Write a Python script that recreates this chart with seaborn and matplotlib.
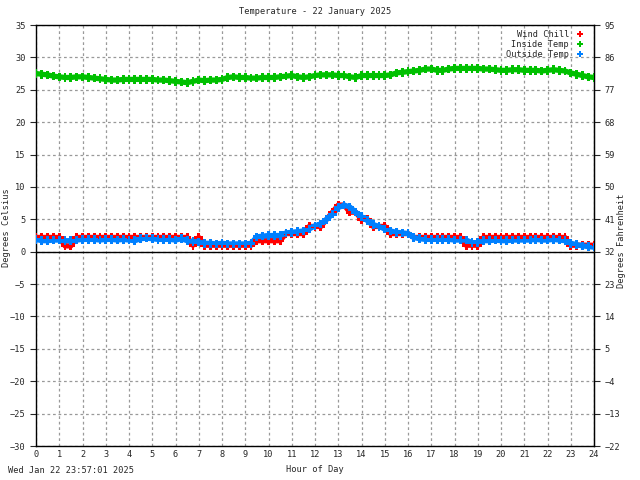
import numpy as np
import pandas as pd
import seaborn as sns
import matplotlib.pyplot as plt

# hours of the day, sampled every quarter hour
hours = np.arange(0, 24.01, 0.25)

inside_temp = [27.5, 27.4, 27.3, 27.1, 27.0, 26.9, 26.9, 27.0, 27.0, 26.9, 26.8, 26.7,
               26.6, 26.5, 26.5, 26.6, 26.6, 26.6, 26.6, 26.6, 26.6, 26.5, 26.5, 26.4,
               26.3, 26.2, 26.1, 26.3, 26.5, 26.4, 26.5, 26.5, 26.6, 26.9, 27.0, 26.9,
               26.9, 26.8, 26.8, 26.9, 26.9, 26.9, 27.0, 27.1, 27.2, 27.0, 26.9, 27.0,
               27.2, 27.3, 27.3, 27.3, 27.2, 27.2, 27.0, 26.9, 27.2, 27.2, 27.2, 27.2,
               27.2, 27.3, 27.6, 27.7, 27.8, 27.9, 28.0, 28.2, 28.2, 28.0, 28.0, 28.2,
               28.3, 28.3, 28.3, 28.3, 28.3, 28.2, 28.2, 28.1, 28.0, 28.0, 28.1, 28.1,
               28.0, 28.0, 28.0, 27.9, 28.0, 28.1, 28.0, 27.9, 27.6, 27.4, 27.2, 27.0,
               26.9]

wind_chill = [2.2, 2.2, 2.2, 2.2, 2.2, 0.9, 0.9, 2.2, 2.2, 2.2, 2.2, 2.2,
              2.2, 2.2, 2.2, 2.2, 2.2, 2.2, 2.2, 2.2, 2.2, 2.2, 2.2, 2.2,
              2.2, 2.2, 2.2, 1.0, 2.2, 1.0, 1.0, 1.0, 1.0, 1.0, 1.0, 1.0,
              1.0, 1.0, 1.7, 1.7, 1.7, 1.7, 1.7, 2.8, 2.8, 2.8, 2.8, 3.9,
              3.9, 3.9, 5.0, 6.1, 7.2, 7.2, 6.1, 6.1, 5.0, 5.0, 3.9, 3.9,
              3.9, 2.8, 2.8, 2.8, 2.8, 2.2, 2.2, 2.2, 2.2, 2.2, 2.2, 2.2,
              2.2, 2.2, 1.0, 1.0, 1.0, 2.2, 2.2, 2.2, 2.2, 2.2, 2.2, 2.2,
              2.2, 2.2, 2.2, 2.2, 2.2, 2.2, 2.2, 2.2, 1.0, 1.0, 1.0, 1.0,
              1.0]

outside_temp = [1.9, 1.7, 1.7, 1.8, 1.8, 1.7, 1.7, 1.8, 1.9, 1.9, 1.9, 1.8,
                1.9, 1.9, 1.8, 1.9, 1.8, 1.7, 2.0, 2.1, 2.0, 1.9, 1.9, 1.9,
                1.8, 2.0, 1.7, 1.6, 1.5, 1.3, 1.3, 1.2, 1.3, 1.2, 1.2, 1.2,
                1.2, 1.3, 2.3, 2.4, 2.5, 2.5, 2.5, 2.9, 3.0, 3.1, 3.2, 3.5,
                4.0, 4.3, 5.0, 5.8, 6.8, 7.2, 6.9, 6.1, 5.4, 4.8, 4.2, 3.9,
                3.5, 3.2, 3.0, 2.9, 2.8, 2.2, 2.0, 1.9, 1.9, 1.9, 1.9, 1.9,
                1.8, 1.8, 1.8, 1.4, 1.4, 1.7, 1.7, 1.8, 1.7, 1.7, 1.8, 1.8,
                1.8, 1.8, 1.9, 1.8, 1.8, 1.9, 1.8, 1.7, 1.3, 1.1, 0.9, 0.8,
                0.7]

series_names = ["Wind Chill", "Inside Temp", "Outside Temp"]
series_colors = ["#ff0000", "#00c000", "#0080ff"]
c_ticks = list(range(-30, 36, 5))
f_ticks = [95, 86, 77, 68, 59, 50, 41, 32, 23, 14, 5, -4, -13, -22]

# long table, drawn in order inside -> wind chill -> outside (blue on top)
df = pd.concat([
    pd.DataFrame({"hour": hours, "temp": inside_temp, "series": "Inside Temp"}),
    pd.DataFrame({"hour": hours, "temp": wind_chill, "series": "Wind Chill"}),
    pd.DataFrame({"hour": hours, "temp": outside_temp, "series": "Outside Temp"}),
])
pal = dict(zip(series_names, series_colors))

sns.set_style("white")
plt.rcParams['font.family'] = ["DejaVu Sans Mono"]
fs = 6.2

fig = plt.figure(figsize=(6.4, 4.8), dpi=100)
ax = fig.add_axes([0.05625, 0.0708, 0.8719, 0.8771])

# thick line under the points so the band looks continuous
for name in ["Inside Temp", "Wind Chill", "Outside Temp"]:
    sub = df[df["series"] == name]
    sns.lineplot(data=sub, x="hour", y="temp", color=pal[name], linewidth=3.8,
                 ax=ax, legend=False, zorder=3)
sns.scatterplot(data=df, x="hour", y="temp", hue="series", hue_order=series_names,
                palette=pal, marker="P", s=38, linewidth=0, ax=ax, zorder=4)

ax.set_xlim(0, 24)
ax.set_ylim(-30, 35)
ax.set_xticks(range(0, 25))
ax.set_yticks(c_ticks)
ax.grid(True, color="#999999", linestyle=(0, (2.2, 2.2)), linewidth=0.9)
ax.axhline(0, color="black", linewidth=1, zorder=2)
for sp in ax.spines.values():
    sp.set_color("black")
    sp.set_linewidth(1)
ax.tick_params(axis="x", direction="in", length=4, labelsize=fs, pad=3)
ax.tick_params(axis="y", direction="out", length=4, labelsize=fs, left=True)
ax.set_xlabel("Hour of Day", fontsize=fs)
ax.set_ylabel("")
ax.set_title("Temperature - 22 January 2025", fontsize=fs, pad=8)

sec = ax.secondary_yaxis("right", functions=(lambda c: c * 9 / 5 + 32, lambda f: (f - 32) * 5 / 9))
sec.set_yticks(f_ticks)
sec.tick_params(direction="out", length=4, labelsize=fs)

# axis titles placed as in the reference
fig.text(7 / 640, 1 - 228 / 480, "Degrees Celsius", fontsize=fs, rotation=90,
         ha="center", va="center")
fig.text(621 / 640, 1 - 241 / 480, "Degrees Fahrenheit", fontsize=fs, rotation=90,
         ha="center", va="center")

handles, labels = ax.get_legend_handles_labels()
ax.legend(handles, labels, loc="upper right", frameon=False, markerfirst=False,
          fontsize=fs, handletextpad=0.3, labelspacing=0.1, borderaxespad=0.2,
          markerscale=0.8)

fig.text(0.012, 0.01, "Wed Jan 22 23:57:01 2025", fontsize=fs, ha="left", va="bottom")

fig.savefig("out.png", dpi=100)
